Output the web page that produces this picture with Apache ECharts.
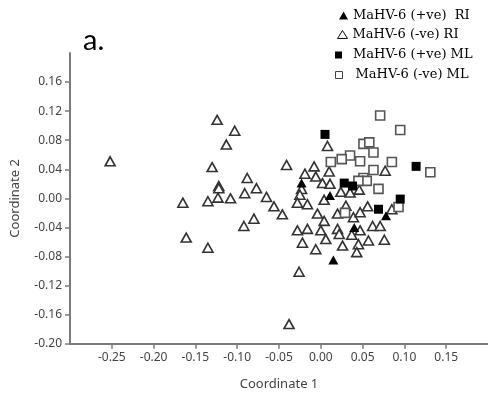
<!DOCTYPE html>
<html>
<head>
<meta charset="utf-8">
<script src="https://cdn.jsdelivr.net/npm/echarts@6/dist/echarts.min.js"></script>
<style>
  html, body { margin: 0; padding: 0; background: #fff; }
  #chart { width: 488px; height: 396px; }
</style>
</head>
<body>
<div id="chart"></div>
<script>
// Series names as shown in the legend
const seriesNames = [
  'MaHV-6 (+ve)  RI',
  'MaHV-6 (-ve) RI',
  'MaHV-6 (+ve) ML',
  'MaHV-6 (-ve) ML'
];

// Coordinate 1 / Coordinate 2 scores per sample
const posRI = [
  [-0.023, 0.021], [0.011, 0.004], [0.040, -0.040], [0.015, -0.085], [0.078, -0.024]
];

const negRI = [
  [-0.252, 0.051], [-0.124, 0.108], [-0.103, 0.093], [-0.113, 0.074], [-0.130, 0.043],
  [-0.088, 0.028], [-0.122, 0.017], [-0.122, 0.014], [-0.077, 0.014], [-0.091, 0.007],
  [-0.123, 0.001], [-0.108, 0.000], [-0.165, -0.006], [-0.135, -0.004], [-0.080, -0.028],
  [-0.092, -0.038], [-0.161, -0.054], [-0.135, -0.068],
  [0.008, 0.072], [-0.041, 0.046], [-0.008, 0.044], [-0.019, 0.034], [0.010, 0.037],
  [-0.006, 0.030], [0.002, 0.021], [0.011, 0.020], [-0.023, 0.013], [-0.065, 0.002],
  [-0.025, 0.005], [-0.056, -0.011], [-0.046, -0.022],
  [0.024, 0.009], [0.035, 0.008], [0.046, 0.012], [0.004, -0.002], [-0.028, -0.006],
  [-0.016, -0.008], [0.030, -0.010], [0.056, -0.011], [-0.004, -0.021], [0.004, -0.031],
  [0.020, -0.021], [0.039, -0.026], [0.047, -0.019], [0.085, -0.015], [0.077, 0.038],
  [-0.028, -0.044], [-0.016, -0.042], [0.000, -0.044], [0.020, -0.042], [0.037, -0.050],
  [0.047, -0.044], [0.062, -0.038], [0.071, -0.038], [-0.022, -0.061], [0.006, -0.056],
  [0.022, -0.049], [0.057, -0.058], [0.076, -0.057], [-0.006, -0.070], [0.026, -0.065],
  [0.045, -0.063], [0.043, -0.074], [-0.026, -0.101], [-0.038, -0.173]
];

const posML = [
  [0.005, 0.088], [0.028, 0.021], [0.038, 0.017], [0.114, 0.044], [0.095, -0.001], [0.069, -0.015]
];

const negML = [
  [0.071, 0.114], [0.095, 0.094], [0.051, 0.075], [0.058, 0.077], [0.063, 0.063],
  [0.035, 0.059], [0.025, 0.054], [0.012, 0.050], [0.047, 0.051], [0.085, 0.050],
  [0.063, 0.039], [0.131, 0.036], [0.051, 0.028], [0.055, 0.024], [0.045, 0.024],
  [0.069, 0.013], [0.093, -0.012], [0.029, -0.020]
];

// Tick positions carrying labels
const xTicks = [-0.25, -0.20, -0.15, -0.10, -0.05, 0.00, 0.05, 0.10, 0.15];
const yTicks = [-0.20, -0.16, -0.12, -0.08, -0.04, 0.00, 0.04, 0.08, 0.12, 0.16];

const axisGray = '#7b7b7b';
const labelGray = '#444';
const sansFont = 'Noto Sans';
const serifFont = 'DejaVu Serif';

function legendBox(name, left, top, icon, w, h, style, padLeft) {
  return {
    data: [{ name: name, icon: icon, itemStyle: Object.assign({ opacity: 1 }, style) }],
    left: left,
    top: top,
    orient: 'vertical',
    padding: 0,
    itemWidth: w,
    itemHeight: h,
    selectedMode: false,
    textStyle: {
      fontFamily: serifFont,
      fontSize: 13,
      color: '#000',
      lineHeight: 16,
      padding: [0, 0, 0, padLeft]
    }
  };
}

const chart = echarts.init(document.getElementById('chart'), null, { renderer: 'canvas' });

chart.setOption({
  animation: false,
  backgroundColor: '#fff',
  title: {
    text: 'a.',
    left: 83,
    top: 26,
    padding: 0,
    textStyle: { fontFamily: 'Lato', fontSize: 29, fontWeight: 'normal', color: '#000', lineHeight: 30 }
  },
  legend: [
    legendBox(seriesNames[0], 339, 7.5, 'triangle', 9, 8, { color: '#000' }, 0),
    legendBox(seriesNames[1], 337, 26.5, 'triangle', 10, 8, { color: '#fff', borderColor: '#111', borderWidth: 1 }, 0),
    legendBox(seriesNames[2], 335, 47, 'rect', 7, 7, { color: '#000' }, 6),
    legendBox(seriesNames[3], 335, 67, 'rect', 7, 7, { color: '#fff', borderColor: '#444', borderWidth: 1 }, 8)
  ],
  grid: { left: 70, right: -5, top: 53, bottom: 52.3, containLabel: false },
  xAxis: {
    type: 'value',
    min: -0.3,
    max: 0.2,
    name: 'Coordinate 1',
    nameLocation: 'middle',
    nameGap: 34,
    nameTextStyle: { fontFamily: sansFont, fontSize: 13, color: labelGray },
    splitLine: { show: false },
    axisLine: { show: true, onZero: false, lineStyle: { color: axisGray, width: 2 } },
    axisTick: { show: true, length: 5, customValues: xTicks, lineStyle: { color: axisGray, width: 1.5 } },
    axisLabel: {
      customValues: xTicks,
      margin: 8,
      fontFamily: sansFont,
      fontSize: 12,
      color: labelGray,
      formatter: v => v.toFixed(2)
    }
  },
  yAxis: {
    type: 'value',
    min: -0.2,
    max: 0.2,
    name: 'Coordinate 2',
    nameLocation: 'middle',
    nameGap: 48,
    nameTextStyle: { fontFamily: sansFont, fontSize: 13, color: labelGray },
    splitLine: { show: false },
    axisLine: { show: true, onZero: false, lineStyle: { color: axisGray, width: 2 } },
    axisTick: { show: true, length: 5, customValues: yTicks, lineStyle: { color: axisGray, width: 1.5 } },
    axisLabel: {
      customValues: yTicks,
      margin: 8,
      fontFamily: sansFont,
      fontSize: 12,
      color: labelGray,
      formatter: v => v.toFixed(2)
    }
  },
  series: [
    {
      name: seriesNames[0], type: 'scatter', data: posRI, z: 4,
      symbol: 'triangle', symbolSize: [10, 9],
      itemStyle: { color: '#000', opacity: 1 },
      emphasis: { disabled: true }
    },
    {
      name: seriesNames[1], type: 'scatter', data: negRI, z: 2,
      symbol: 'triangle', symbolSize: [10, 9],
      itemStyle: { color: '#fff', borderColor: '#333', borderWidth: 1.6, opacity: 1 },
      emphasis: { disabled: true }
    },
    {
      name: seriesNames[2], type: 'scatter', data: posML, z: 5,
      symbol: 'rect', symbolSize: 9,
      itemStyle: { color: '#000', opacity: 1 },
      emphasis: { disabled: true }
    },
    {
      name: seriesNames[3], type: 'scatter', data: negML, z: 3,
      symbol: 'rect', symbolSize: 9,
      itemStyle: { color: '#fff', borderColor: '#555', borderWidth: 1.6, opacity: 1 },
      emphasis: { disabled: true }
    }
  ]
});
</script>
</body>
</html>
